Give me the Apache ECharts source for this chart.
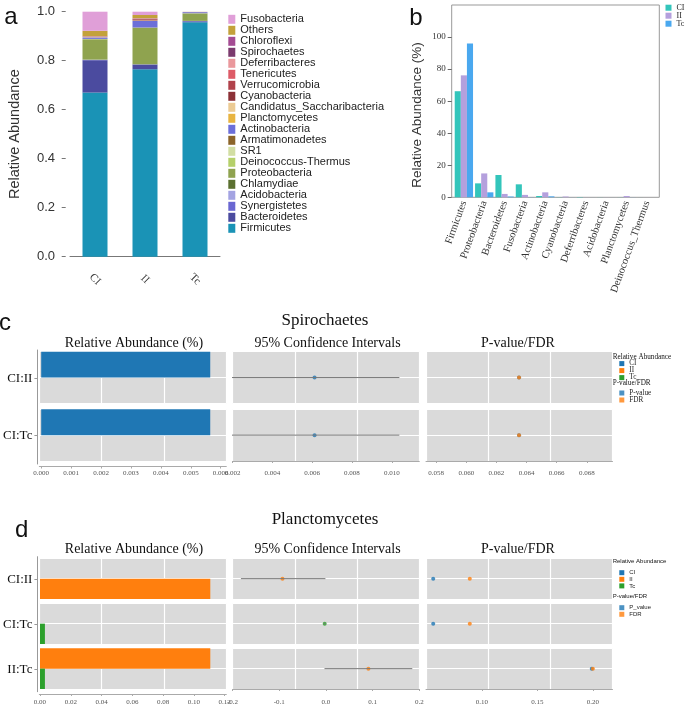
<!DOCTYPE html>
<html><head><meta charset="utf-8">
<script src="https://cdn.jsdelivr.net/npm/echarts@6/dist/echarts.min.js"></script>
<style>html,body{margin:0;padding:0;background:#fff}#chart{width:685px;height:708px}</style>
</head><body><div id="chart"></div>
<script>
// ---------- Panel a : stacked relative abundance ----------
const aGroups = ['CI', 'II', 'Tc'];
const aPhyla = ['Firmicutes','Bacteroidetes','Synergistetes','Acidobacteria','Chlamydiae','Proteobacteria',
  'Deinococcus-Thermus','SR1','Armatimonadetes','Actinobacteria','Planctomycetes','Candidatus_Saccharibacteria',
  'Cyanobacteria','Verrucomicrobia','Tenericutes','Deferribacteres','Spirochaetes','Chloroflexi','Others','Fusobacteria'];
const aColors = ['#1a93b6','#4b4b9f','#6a67d2','#a3a3e2','#5b7030','#8fa34f','#b5d06a','#d2dea3','#8b6429','#6c6fd9',
  '#e8b441','#eccb94','#8c3137','#b1424b','#dd5b67','#ea989c','#7b3a6e','#a44b93','#c3a13b','#e09fd8'];
const aCI = [0.670,0.132,0.001,0.001,0.0005,0.083,0.0005,0.0005,0.0005,0.006,0.0005,0.001,0.0005,0.0005,0.0005,0.001,0.0005,0.0005,0.022,0.078];
const aII = [0.765,0.019,0.001,0.0005,0.0005,0.148,0.0005,0.0005,0.0005,0.027,0.001,0.001,0.004,0.002,0.001,0.001,0.0005,0.0005,0.013,0.0135];
const aTc = [0.957,0.004,0.0005,0.0005,0.0005,0.030,0.0005,0.0005,0.0005,0.004,0.0002,0.0002,0.0002,0.0001,0.0001,0.0001,0.0001,0.0001,0.0005,0.0003];

// ---------- Panel b : grouped bars (%) ----------
const bCategories = ['Firmicutes','Proteobacteria','Bacteroidetes','Fusobacteria','Actinobacteria','Cyanobacteria',
  'Deferribacteres','Acidobacteria','Planctomycetes','Deinococcus_Thermus'];
const bGroups = ['CI', 'II', 'Tc'];
const bColors = ['#33c5bb', '#b4a0dd', '#4aa8ef'];
const bCI = [66.2, 8.7, 13.9, 8.1, 0.8, 0.1, 0.2, 0.05, 0.05, 0.02];
const bII = [76.1, 14.9, 2.1, 1.5, 3.1, 0.5, 0.05, 0.05, 0.8, 0.02];
const bTc = [95.9, 3.1, 0.5, 0.1, 0.6, 0.05, 0.02, 0.02, 0.05, 0.01];
const bTicks = [0, 20, 40, 60, 80, 100];

// ---------- Panel c : Spirochaetes ----------
const cPairs = ['CI:II', 'CI:Tc'];
const cFirstGroup = ['CI', 'CI'];
const cSecondGroup = ['II', 'Tc'];
const cAbundFirst = [0.00565, 0.00565];
const cAbundSecond = [0, 0];
const cDiffEst = [0.00612, 0.00612];
const cDiffLow = [0.00183, 0.00183];
const cDiffHigh = [0.01038, 0.01038];
const cHigherGroup = ['CI', 'CI'];
const cPValue = [0.0635, 0.0635];
const cFDR = [0.0635, 0.0635];
const cAbundTicks = [0, 0.001, 0.002, 0.003, 0.004, 0.005, 0.006];
const cDiffTicks = [0.002, 0.004, 0.006, 0.008, 0.010];
const cPTicks = [0.058, 0.060, 0.062, 0.064, 0.066, 0.068];

// ---------- Panel d : Planctomycetes ----------
const dPairs = ['CI:II', 'CI:Tc', 'II:Tc'];
const dFirstGroup = ['CI', 'CI', 'II'];
const dSecondGroup = ['II', 'Tc', 'Tc'];
const dAbundFirst = [0, 0, 0.1107];
const dAbundSecond = [0.1107, 0.0032, 0.0032];
const dDiffEst = [-0.093, -0.0026, 0.091];
const dDiffLow = [-0.182, -0.0045, -0.003];
const dDiffHigh = [-0.001, -0.0007, 0.185];
const dHigherGroup = ['II', 'Tc', 'II'];
const dPValue = [0.056, 0.056, 0.199];
const dFDR = [0.089, 0.089, 0.2];
const dAbundTicks = [0, 0.02, 0.04, 0.06, 0.08, 0.10, 0.12];
const dDiffTicks = [-0.2, -0.1, 0, 0.1, 0.2];
const dPTicks = [0.10, 0.15, 0.20];

const groupColors = {CI: '#1f77b4', II: '#ff7f0e', Tc: '#2ca02c'};
const pColor = '#1f77b4', fdrColor = '#ff7f0e';

const SERIF = 'Liberation Serif', SANS = 'Liberation Sans';
const grids = [], xAxes = [], yAxes = [], series = [], legends = [], graphics = [];
const addGrid = g => (grids.push(g), grids.length - 1);
const addX = a => (xAxes.push(a), xAxes.length - 1);
const addY = a => (yAxes.push(a), yAxes.length - 1);
const txt = (text, x, y, font, align, extra) => graphics.push(Object.assign({type: 'text', x: x, y: y, silent: true,
  style: {text: text, font: font, fill: '#111', align: align || 'center', verticalAlign: 'middle'}}, extra || {}));

// ----- Panel a -----
{
  const gi = addGrid({left: 70, top: 11.7, width: 150, height: 245});
  const xi = addX({gridIndex: gi, type: 'category', data: aGroups, offset: 6.6,
    axisLine: {lineStyle: {color: '#777'}},
    axisTick: {alignWithLabel: true, length: 4, lineStyle: {color: '#777'}},
    axisLabel: {rotate: -45, align: 'center', verticalAlign: 'middle', margin: 16, fontFamily: SERIF, fontSize: 11, color: '#333'}});
  const yi = addY({gridIndex: gi, type: 'value', min: 0, max: 1, interval: 0.2, offset: 4.3,
    axisLine: {show: false}, axisTick: {show: true, length: 4, lineStyle: {color: '#777'}}, splitLine: {show: false},
    axisLabel: {formatter: v => v.toFixed(1), fontFamily: SANS, fontSize: 13, color: '#333', margin: 10.7},
    name: 'Relative Abundance', nameLocation: 'middle', nameGap: 43,
    nameTextStyle: {fontFamily: SANS, fontSize: 14.5, color: '#333'}});
  aPhyla.forEach((p, i) => series.push({type: 'bar', name: p, stack: 'a', xAxisIndex: xi, yAxisIndex: yi,
    barWidth: 25, itemStyle: {color: aColors[i]}, data: [aCI[i], aII[i], aTc[i]]}));
  legends.push({left: 228.3, top: 13.8, orient: 'vertical', itemWidth: 7, itemHeight: 9, itemGap: 0, icon: 'rect',
    padding: 0, selectedMode: false, data: aPhyla.slice().reverse(),
    textStyle: {fontFamily: SANS, fontSize: 11, lineHeight: 10.9, color: '#222'}});
  txt('a', 10.8, 17.5, '24px "Liberation Sans"');
}

// ----- Panel b -----
{
  const g1 = addGrid({left: 451.7, top: 5, width: 207.6, height: 192.3, show: true, borderColor: '#999', borderWidth: 1, backgroundColor: 'transparent'});
  addX({gridIndex: g1, type: 'value', show: false});
  addY({gridIndex: g1, type: 'value', show: false});
  const g2 = addGrid({left: 453.7, top: 5, width: 203.5, height: 192.3});
  const bx = addX({gridIndex: g2, type: 'category', data: bCategories, axisLine: {show: false}, axisTick: {show: false},
    axisLabel: {interval: 0, rotate: 70, margin: 4, fontFamily: SERIF, fontSize: 10.5, color: '#333'}});
  const by = addY({gridIndex: g2, type: 'value', min: 0, max: 120, offset: 2, axisLine: {show: false},
    axisTick: {show: true, length: 4, customValues: bTicks, lineStyle: {color: '#666'}},
    axisLabel: {customValues: bTicks, fontFamily: SERIF, fontSize: 9, color: '#333', margin: 6}, splitLine: {show: false}});
  [bCI, bII, bTc].forEach((vals, i) => series.push({type: 'bar', name: bGroups[i], xAxisIndex: bx, yAxisIndex: by,
    barGap: 0, barCategoryGap: '10%', itemStyle: {color: bColors[i]}, data: vals}));
  legends.push({left: 665.5, top: 3.7, orient: 'vertical', itemWidth: 6, itemHeight: 6, itemGap: 0, icon: 'rect',
    padding: 0, selectedMode: false, data: bGroups.map((g, i) => ({name: g, itemStyle: {color: bColors[i]}})),
    textStyle: {fontFamily: SERIF, fontSize: 8, lineHeight: 5.8, color: '#222'}});
  txt('Relative Abundance (%)', 417.5, 115, '13.5px "Liberation Sans"', 'center', {rotation: Math.PI / 2});
  graphics[graphics.length - 1].style.fill = '#333';
  txt('b', 415.8, 18.8, '24px "Liberation Sans"');
}

// ----- Panels c and d -----
const colLeft = [39.3, 232.5, 426];
const colWidth = [187, 186.8, 186.5];
const sections = [
  {letter: 'c', letterX: 5, letterY: 323.7, title: 'Spirochaetes', titleY: 320.5, headerY: 343.3,
   pairs: cPairs, first: cFirstGroup, second: cSecondGroup, abFirst: cAbundFirst, abSecond: cAbundSecond,
   est: cDiffEst, low: cDiffLow, high: cDiffHigh, higher: cHigherGroup, p: cPValue, fdr: cFDR, pName: 'P-value',
   ticks: [cAbundTicks, cDiffTicks, cPTicks], decimals: [3, 3, 3],
   ranges: [[-0.0000635, 0.006187], [0.002, 0.01138], [0.05733, 0.0697]],
   rowTops: [351.7, 409.3], rowH: 51.7, axisOffset: 5.5, labelTop: 350, labelH: 114, labelMargin: 3,
   legTop: 360.1, legTop2: 389.5, legFont: SERIF, legSize: 7.2, legLH: 6.4, headTop: 356.7, headTop2: 383.3},
  {letter: 'd', letterX: 21.7, letterY: 530.3, title: 'Planctomycetes', titleY: 519.5, headerY: 549.3,
   pairs: dPairs, first: dFirstGroup, second: dSecondGroup, abFirst: dAbundFirst, abSecond: dAbundSecond,
   est: dDiffEst, low: dDiffLow, high: dDiffHigh, higher: dHigherGroup, p: dPValue, fdr: dFDR, pName: 'P_value',
   ticks: [dAbundTicks, dDiffTicks, dPTicks], decimals: [2, 1, 2],
   ranges: [[-0.00045, 0.1211], [-0.2, 0.2], [0.0495, 0.2177]],
   rowTops: [558.3, 603.3, 648.3], rowH: 40.7, axisOffset: 5, labelTop: 556.7, labelH: 135, labelMargin: 4.5,
   legTop: 569.4, legTop2: 604.4, legFont: SANS, legSize: 6, legLH: 6.6, headTop: 561.7, headTop2: 596}
];
const hidden = {axisLine: {show: false}, axisTick: {show: false}, axisLabel: {show: false}};
const whiteSplit = {show: true, lineStyle: {color: '#fff', width: 1.2}};

sections.forEach(sec => {
  const n = sec.pairs.length;
  const lg = addGrid({left: 36, top: sec.labelTop, height: sec.labelH, width: 190});
  addX({gridIndex: lg, type: 'value', show: false});
  addY({gridIndex: lg, type: 'category', data: sec.pairs.slice().reverse(),
    axisLine: {show: true, lineStyle: {color: '#999'}},
    axisTick: {show: true, alignWithLabel: true, length: 3, lineStyle: {color: '#999'}},
    axisLabel: {fontFamily: SERIF, fontSize: 13, color: '#111', margin: 5}, splitLine: {show: false}});
  for (let r = 0; r < n; r++) {
    for (let k = 0; k < 3; k++) {
      const gi = addGrid({left: colLeft[k], top: sec.rowTops[r], width: colWidth[k], height: sec.rowH,
        show: true, backgroundColor: '#dadada', borderWidth: 0});
      const bottom = r === n - 1;
      const xi = addX({gridIndex: gi, type: 'value', min: sec.ranges[k][0], max: sec.ranges[k][1], offset: sec.axisOffset,
        splitLine: {show: false},
        axisLine: {show: bottom, lineStyle: {color: '#aaa'}},
        axisTick: {show: bottom, customValues: sec.ticks[k], length: 2, lineStyle: {color: '#aaa'}},
        axisLabel: {show: bottom, customValues: sec.ticks[k], formatter: v => v.toFixed(sec.decimals[k]),
          fontFamily: SERIF, fontSize: 7, color: '#555', margin: sec.labelMargin}});
      addX(Object.assign({gridIndex: gi, type: 'value', min: 0, max: 3, interval: 1, splitLine: whiteSplit}, hidden));
      if (k === 0) {
        const yi = addY(Object.assign({gridIndex: gi, type: 'category', data: ['second', 'first'], splitLine: whiteSplit}, hidden));
        series.push({type: 'bar', name: sec.first[r], xAxisIndex: xi, yAxisIndex: yi, barGap: '-100%', barCategoryGap: '0%',
          itemStyle: {color: groupColors[sec.first[r]]}, data: ['-', sec.abFirst[r]]});
        series.push({type: 'bar', name: sec.second[r], xAxisIndex: xi, yAxisIndex: yi, barGap: '-100%', barCategoryGap: '0%',
          itemStyle: {color: groupColors[sec.second[r]]}, data: [sec.abSecond[r], '-']});
      } else {
        const yi = addY(Object.assign({gridIndex: gi, type: 'value', min: 0, max: 2, interval: 1, splitLine: whiteSplit}, hidden));
        if (k === 1) {
          series.push({type: 'line', name: '95% CI', xAxisIndex: xi, yAxisIndex: yi, clip: false, symbol: 'none', silent: true,
            lineStyle: {color: '#777', width: 1}, data: [[sec.low[r], 1], [sec.high[r], 1]]});
          series.push({type: 'scatter', name: sec.higher[r], xAxisIndex: xi, yAxisIndex: yi, symbolSize: 4,
            itemStyle: {color: groupColors[sec.higher[r]]}, data: [[sec.est[r], 1]]});
        } else {
          series.push({type: 'scatter', name: sec.pName, xAxisIndex: xi, yAxisIndex: yi, symbolSize: 4,
            itemStyle: {color: pColor}, data: [[sec.p[r], 1]]});
          series.push({type: 'scatter', name: 'FDR', xAxisIndex: xi, yAxisIndex: yi, symbolSize: 4,
            itemStyle: {color: fdrColor}, data: [[sec.fdr[r], 1]]});
        }
      }
    }
  }
  txt(sec.letter, sec.letterX, sec.letterY, '24px "Liberation Sans"');
  txt(sec.title, 325, sec.titleY, '17px "Liberation Serif"');
  txt('Relative Abundance (%)', 134, sec.headerY, '14px "Liberation Serif"');
  txt('95% Confidence Intervals', 327.5, sec.headerY, '14px "Liberation Serif"');
  txt('P-value/FDR', 518, sec.headerY, '14px "Liberation Serif"');
  const hf = sec.legSize + 'px "' + sec.legFont + '"';
  txt('Relative Abundance', 612.7, sec.headTop, hf, 'left');
  txt('P-value/FDR', 612.7, sec.headTop2, hf, 'left');
  const ls = {fontFamily: sec.legFont, fontSize: sec.legSize, lineHeight: sec.legLH, color: '#222'};
  legends.push({left: 619.3, top: sec.legTop, orient: 'vertical', itemWidth: 5, itemHeight: 5, itemGap: 0, icon: 'rect',
    padding: 0, selectedMode: false, textStyle: ls,
    data: ['CI', 'II', 'Tc'].map(g => ({name: g, itemStyle: {color: groupColors[g]}}))});
  legends.push({left: 619.3, top: sec.legTop2, orient: 'vertical', itemWidth: 5, itemHeight: 5, itemGap: 0, icon: 'rect',
    padding: 0, selectedMode: false, textStyle: ls,
    data: [{name: sec.pName, itemStyle: {color: pColor}}, {name: 'FDR', itemStyle: {color: fdrColor}}]});
});

const chart = echarts.init(document.getElementById('chart'), null, {renderer: 'canvas'});
chart.setOption({
  animation: false,
  backgroundColor: '#fff',
  grid: grids, xAxis: xAxes, yAxis: yAxes, series: series, legend: legends,
  graphic: graphics
});
</script>
</body></html>
